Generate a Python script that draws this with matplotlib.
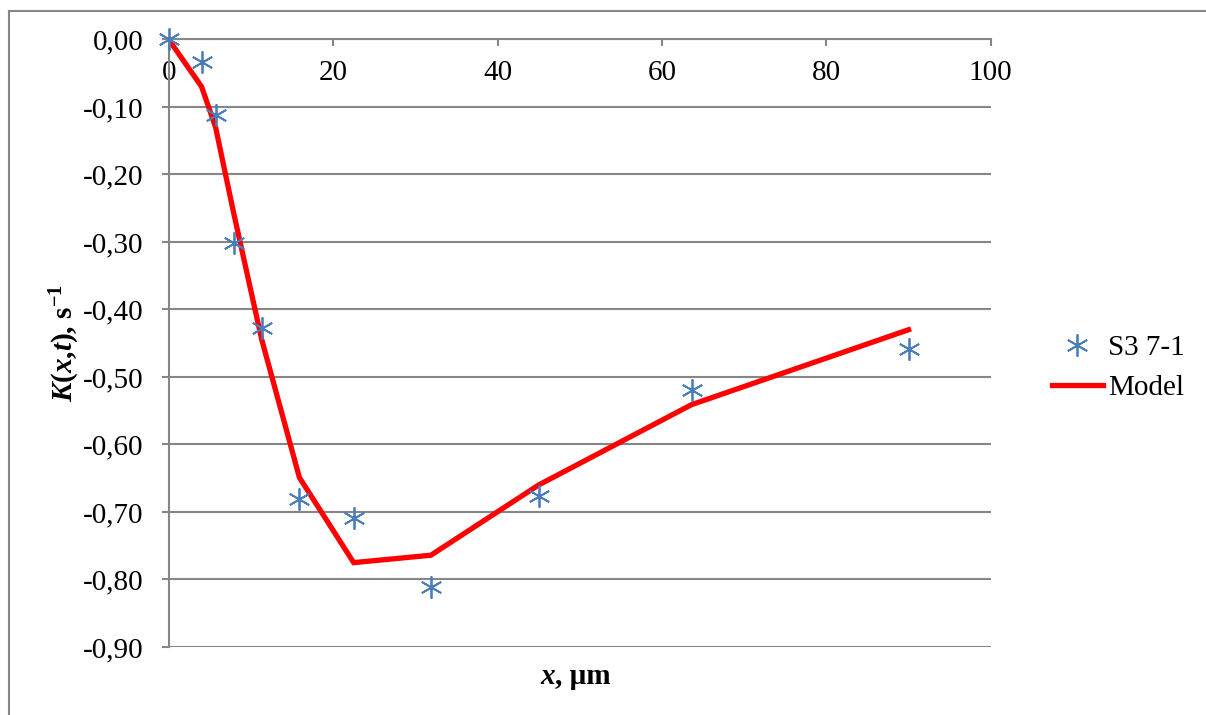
import numpy as np
import matplotlib.pyplot as plt
from matplotlib.lines import Line2D
from matplotlib.ticker import FuncFormatter

# measured points (S3 7-1)
x_meas = [0, 4.0, 5.7, 7.9, 11.3, 15.9, 22.5, 31.9, 45.0, 63.6, 90.0]
k_meas = [0.0, -0.034, -0.112, -0.302, -0.427, -0.681, -0.709, -0.811, -0.676, -0.519, -0.459]

# model curve
x_model = [0, 4.0, 5.7, 7.9, 11.3, 15.9, 22.5, 31.9, 45.0, 63.6, 90.0]
k_model = [0.0, -0.070, -0.130, -0.257, -0.444, -0.649, -0.775, -0.764, -0.660, -0.541, -0.430]

x_ticks = [0, 20, 40, 60, 80, 100]
y_ticks = [0.0, -0.1, -0.2, -0.3, -0.4, -0.5, -0.6, -0.7, -0.8, -0.9]

plt.rcParams['font.family'] = ['Liberation Serif', 'DejaVu Serif']
plt.rcParams['mathtext.fontset'] = 'custom'
plt.rcParams['mathtext.rm'] = 'Liberation Serif'
plt.rcParams['mathtext.it'] = 'Liberation Serif:italic'
plt.rcParams['mathtext.bf'] = 'Liberation Serif:bold'
plt.rcParams['mathtext.bfit'] = 'Liberation Serif:bold:italic'

grey = '#868686'
fs = 21

fig = plt.figure(figsize=(12.06, 7.15), dpi=100)
ax = fig.add_axes([0.1399, 0.0951, 0.8215 - 0.1399, 0.9448 - 0.0951])

# outer frame (top and left edges visible)
fig.add_artist(Line2D([9 / 1206, 1], [1 - 11 / 715, 1 - 11 / 715], color=grey, lw=1.5))
fig.add_artist(Line2D([9 / 1206, 9 / 1206], [0, 1 - 11 / 715], color=grey, lw=1.5))

ax.plot(x_model, k_model, color='#ff0000', lw=3.8, zorder=3, label='Model',
        solid_joinstyle='miter')
ax.plot(x_meas, k_meas, linestyle='none', marker=(6, 2, 0), markersize=16,
        markeredgewidth=1.3, color='#4a7ebb', zorder=4, label='S3 7-1', clip_on=False)

ax.set_xlim(0, 100)
ax.set_ylim(-0.9, 0)
ax.set_xticks(x_ticks)
ax.set_yticks(y_ticks)
ax.yaxis.set_major_formatter(FuncFormatter(lambda v, p: f'{v:.2f}'.replace('.', ',')))

ax.grid(axis='y', color=grey, lw=1.5)
ax.set_axisbelow(True)
for s in ['top', 'right']:
    ax.spines[s].set_visible(False)
ax.spines['bottom'].set_position(('data', 0))
ax.spines['bottom'].set_color(grey)
ax.spines['bottom'].set_linewidth(1.5)
ax.spines['left'].set_color(grey)
ax.spines['left'].set_linewidth(1.5)

ax.tick_params(axis='both', colors=grey, labelcolor='black', labelsize=fs,
               length=5, width=1.5, direction='out')
ax.tick_params(axis='x', pad=10)
ax.tick_params(axis='y', pad=13)

fig.text(65 / 1206, 1 - 343 / 715,
         r'$\mathbfit{K}\mathbf{(}\mathbfit{x}\mathbf{,}\mathbfit{t}\mathbf{)}$' + ', ' +
         r'$\mathbf{s}^{\mathbf{-1}}$',
         rotation=90, ha='center', va='center', fontsize=fs, fontweight='bold')
fig.text(555 / 1206, 1 - 677 / 715, 'x', ha='right', va='center', fontsize=fs,
         fontweight='bold', fontstyle='italic')
fig.text(555 / 1206, 1 - 677 / 715, ', \u00b5m', ha='left', va='center', fontsize=fs,
         fontweight='bold')

handles, labels = ax.get_legend_handles_labels()
ax.legend(handles[::-1], labels[::-1], loc='center left',
          bbox_to_anchor=(1037 / 1206, 1 - 368 / 715), bbox_transform=fig.transFigure,
          frameon=False, fontsize=fs, handlelength=1.75, handletextpad=0.2,
          labelspacing=0.45, borderpad=0)

fig.savefig('out.png', dpi=100)
